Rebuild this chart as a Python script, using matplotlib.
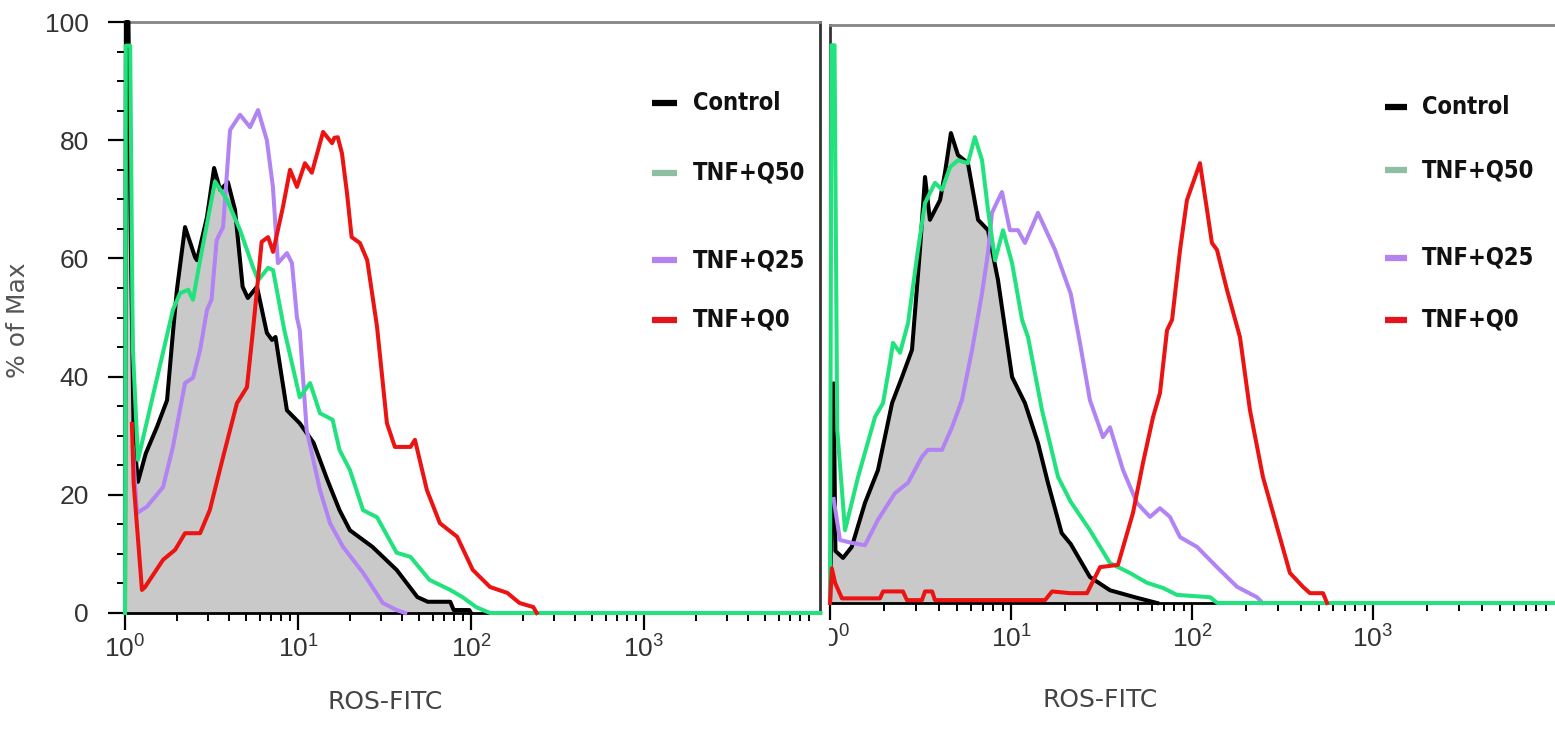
import numpy as np
import matplotlib
matplotlib.use("Agg")
import matplotlib.pyplot as plt
from matplotlib import font_manager
from matplotlib.font_manager import FontProperties
from matplotlib.transforms import Bbox

plt.rcParams['font.family'] = ['Liberation Sans', 'DejaVu Sans']
plt.rcParams['mathtext.default'] = 'regular'

# ---- data: x as log10(ROS-FITC), y as % of max ----
# left panel
ctrl_L_dec = [0.0, 0.005, 0.02, 0.035, 0.05, 0.075, 0.12, 0.185, 0.243, 0.277, 0.30, 0.347, 0.405, 0.416,
              0.474, 0.515, 0.55, 0.595, 0.636, 0.68, 0.71, 0.763, 0.82, 0.85, 0.87, 0.936, 1.01, 1.09,
              1.17, 1.24, 1.30, 1.43, 1.57, 1.69, 1.75, 1.88, 1.9, 1.99, 2.0]
ctrl_L_y = [0, 100, 100, 60, 30, 22.2, 27, 31.5, 36, 47.4, 54.7, 65.3, 60.2, 59.7,
            67, 75.3, 71.6, 72.9, 68.2, 55.2, 53.3, 55.2, 47.4, 46.2, 46.7, 34.3, 32.1, 28.8,
            22.5, 17.4, 14, 11.2, 7.3, 2.7, 1.9, 1.9, 0.5, 0.5, 0]

q50_L_dec = [0.0, 0.005, 0.03, 0.045, 0.075, 0.2, 0.277, 0.318, 0.365, 0.393, 0.434, 0.52, 0.59, 0.665,
             0.74, 0.77, 0.827, 0.856, 0.92, 1.01, 1.07, 1.127, 1.2, 1.24, 1.3, 1.376, 1.457, 1.57,
             1.65, 1.76, 1.88, 1.95, 2.03, 2.11, 4.02]
q50_L_y = [0, 96, 96, 45, 25.9, 41.6, 51.3, 54.1, 54.7, 53, 59.7, 73, 69.9, 64.8,
           58.5, 56.3, 58.4, 58, 48, 36.5, 38.9, 33.8, 32.7, 27.6, 24.2, 17.4, 16.2, 10.2,
           9.5, 5.6, 3.9, 2.7, 1, 0, 0]

q25_L_dec = [0.045, 0.069, 0.127, 0.22, 0.277, 0.347, 0.393, 0.434, 0.474, 0.50, 0.53, 0.567, 0.607,
             0.665, 0.723, 0.769, 0.82, 0.855, 0.884, 0.936, 0.965, 0.994, 1.01, 1.05, 1.127, 1.185,
             1.26, 1.376, 1.49, 1.57, 1.62]
q25_L_y = [28, 16.9, 18, 21.3, 28.1, 38.9, 39.8, 44.5, 51.3, 53, 63.1, 65.3, 81.7,
           84.3, 82.2, 85.1, 80, 72.1, 59.2, 60.9, 59.2, 50, 47.9, 31, 20.8, 15.2,
           11.2, 6.8, 1.7, 0.5, 0]

q0_L_dec = [0.04, 0.05, 0.098, 0.116, 0.22, 0.29, 0.347, 0.434, 0.49, 0.567, 0.647, 0.705, 0.74, 0.79,
            0.827, 0.856, 0.913, 0.954, 0.994, 1.04, 1.08, 1.145, 1.197, 1.21, 1.23, 1.254, 1.283, 1.31,
            1.358, 1.4, 1.457, 1.514, 1.56, 1.65, 1.676, 1.745, 1.82, 1.92, 2.01, 2.11, 2.21, 2.28,
            2.36, 2.38]
q0_L_y = [32, 22, 3.9, 4.4, 9, 10.7, 13.5, 13.5, 17.4, 26.4, 35.5, 38.2, 47.9, 62.8,
          63.6, 61.1, 68.7, 75, 72.1, 76.1, 74.5, 81.4, 79.5, 80.4, 80.5, 77.8, 71.1, 63.6,
          62.6, 59.7, 48.4, 32.1, 28.1, 28.1, 29.3, 20.8, 15.2, 12.9, 7.3, 4.4, 3.4, 1.7,
          1, 0]

# right panel
ctrl_R_dec = [0.0, 0.02, 0.03, 0.072, 0.12, 0.193, 0.265, 0.343, 0.398, 0.453, 0.497, 0.525, 0.552,
              0.608, 0.635, 0.668, 0.707, 0.762, 0.818, 0.873, 0.928, 1.006, 1.077, 1.149, 1.204,
              1.28, 1.33, 1.436, 1.547, 1.696, 1.807]
ctrl_R_y = [0, 38, 9, 7.8, 9.7, 17.3, 23, 34.6, 39.1, 43.8, 61.1, 73.7, 66.3,
            69.7, 74.4, 81.3, 77.5, 76.1, 66.3, 64.5, 55.9, 39.1, 34.6, 27.7, 20.8,
            12.1, 10.2, 4.5, 2.2, 0.9, 0]

q50_R_dec = [0.0, 0.008, 0.025, 0.04, 0.083, 0.155, 0.249, 0.293, 0.331, 0.348, 0.387, 0.431, 0.486,
             0.525, 0.58, 0.619, 0.663, 0.707, 0.762, 0.80, 0.84, 0.873, 0.912, 0.956, 1.006, 1.061,
             1.094, 1.171, 1.26, 1.33, 1.436, 1.547, 1.657, 1.751, 1.84, 1.917, 2.1, 2.14, 4.01]
q50_R_y = [0, 96.5, 96.5, 30, 12.6, 21.8, 32.2, 34.6, 41.5, 45, 43.3, 48.4, 61.1,
           69.2, 72.7, 71.5, 75.4, 76.6, 76.1, 80.6, 76.6, 68, 59.3, 64.5, 58.8, 49,
           46, 33.4, 21.8, 17.5, 12.6, 6.9, 5.2, 3.5, 2.6, 1.4, 1, 0, 0]

q25_R_dec = [0.02, 0.055, 0.12, 0.193, 0.265, 0.359, 0.431, 0.508, 0.541, 0.619, 0.674, 0.729, 0.785,
             0.84, 0.873, 0.895, 0.928, 0.95, 0.994, 1.039, 1.077, 1.116, 1.149, 1.243, 1.33, 1.381,
             1.436, 1.508, 1.547, 1.619, 1.696, 1.768, 1.823, 1.878, 1.934, 2.028, 2.138, 2.249,
             2.359, 2.39]
q25_R_y = [18, 10.9, 10.4, 10, 14.4, 19, 20.8, 25.3, 26.5, 26.5, 30.4, 35.1, 43.8,
           53.6, 60.6, 67.5, 69.7, 71.1, 64.5, 64.5, 62.3, 65.1, 67.5, 61.1, 53.5, 45,
           35.1, 28.7, 30.4, 23, 17.3, 14.9, 16.4, 14.9, 11.4, 9.7, 6.2, 2.8,
           1, 0]

q0_R_dec = [0.0, 0.01, 0.028, 0.066, 0.276, 0.293, 0.403, 0.425, 0.508, 0.525, 0.564, 0.58, 1.188,
            1.227, 1.326, 1.42, 1.492, 1.591, 1.674, 1.729, 1.785, 1.823, 1.862, 1.89, 1.934, 1.972,
            2.044, 2.083, 2.11, 2.138, 2.193, 2.265, 2.32, 2.392, 2.47, 2.541, 2.613, 2.652, 2.724,
            2.746]
q0_R_y = [0, 6, 3.5, 0.8, 0.8, 2, 2, 0.5, 0.5, 2, 2, 0.5, 0.5,
          2, 1.7, 1.7, 6.2, 6.6, 15.6, 24.2, 32.2, 36.3, 47.2, 49, 61.1, 69.7,
          76.1, 68, 62.3, 61.1, 54.2, 46, 33.4, 21.8, 13.1, 5.2, 2.8, 1.7, 1.7,
          0]

legend_labels = ['Control', 'TNF+Q50', 'TNF+Q25', 'TNF+Q0']
legend_colors = ['#000000', '#8fbfa3', '#b583f0', '#e4141c']
line_colors = {'Control': '#000000', 'TNF+Q50': '#22e27e', 'TNF+Q25': '#b283f2', 'TNF+Q0': '#ec1313'}
xtick_vals = [1, 10, 100, 1000]
xtick_labels = [r'$10^{0}$', r'$10^{1}$', r'$10^{2}$', r'$10^{3}$']
ytick_vals = [0, 20, 40, 60, 80, 100]

# condensed face for the legend if one is installed
narrow = [f for f in font_manager.fontManager.ttflist
          if f.stretch in ('condensed', 'semi-condensed', 'extra-condensed')
          or 'Narrow' in f.name or 'Condensed' in f.name]
narrow.sort(key=lambda f: 0 if f.weight in ('bold', 700) else 1)
if narrow:
    leg_fp = FontProperties(fname=narrow[0].fname, size=17)
else:
    leg_fp = FontProperties(family='Liberation Sans', weight='bold', size=16)

W, H = 1555, 729
fig = plt.figure(figsize=(W / 100, H / 100), dpi=100)
axL = fig.add_axes([125 / W, (H - 613) / H, (820 - 125) / W, (613 - 22) / H])
axR = fig.add_axes([830 / W, (H - 603) / H, (W - 830) / W, (603 - 25) / H])


def draw_panel(ax, ctrl, q50, q25, q0, xmax_dec):
    cx = 10 ** np.array(ctrl[0])
    ax.fill_between(cx, ctrl[1], 0, color='#c9c9c9', lw=0, zorder=1)
    for (d, y), name in [(ctrl, 'Control'), (q25, 'TNF+Q25'), (q50, 'TNF+Q50'), (q0, 'TNF+Q0')]:
        ax.plot(10 ** np.array(d), y, color=line_colors[name], lw=2.9, zorder=4, clip_on=False)
    ax.set_xscale('log')
    ax.set_xlim(1, 10 ** xmax_dec)
    ax.set_ylim(0, 100)
    ax.set_xticks(xtick_vals)
    ax.set_xticklabels(xtick_labels)
    minors = [m * 10 ** k for k in range(4) for m in range(2, 10)]
    ax.set_xticks(minors, minor=True)
    ax.tick_params(axis='x', which='major', length=12, width=1.6, pad=4, labelsize=19,
                   labelcolor='#333333')
    ax.tick_params(axis='x', which='minor', length=6, width=1.4)
    ax.spines['bottom'].set_linewidth(2)
    ax.spines['top'].set_color('#858585')
    ax.spines['top'].set_linewidth(2)
    ax.set_xlabel('ROS-FITC', fontsize=18, color='#444444', family='DejaVu Sans')


def draw_legend(ax, x0, x1, xt, ys):
    for lab, col, yy in zip(legend_labels, legend_colors, ys):
        ax.plot([x0, x1], [yy, yy], transform=ax.transAxes, color=col, lw=4.5,
                solid_capstyle='butt', clip_on=False, zorder=6)
        ax.text(xt, yy, lab, transform=ax.transAxes, fontproperties=leg_fp,
                va='center', ha='left', color='#111111')


# left panel
draw_panel(axL, (ctrl_L_dec, ctrl_L_y), (q50_L_dec, q50_L_y), (q25_L_dec, q25_L_y),
           (q0_L_dec, q0_L_y), (820 - 125) / 173)
axL.set_yticks(ytick_vals)
axL.set_yticks([v for v in range(5, 100, 5) if v % 20], minor=True)
axL.tick_params(axis='y', which='major', length=12, width=1.6, pad=14, labelsize=19,
                labelcolor='#333333')
axL.tick_params(axis='y', which='minor', length=6, width=1.4)
axL.spines['left'].set_linewidth(2)
axL.spines['right'].set_color('#333333')
axL.spines['right'].set_linewidth(2)
axL.set_ylabel('% of Max', fontsize=18, color='#555555', family='DejaVu Sans')
axL.yaxis.set_label_coords(-0.137, 0.496)
axL.xaxis.set_label_coords(0.374, -0.13)
draw_legend(axL, 0.758, 0.794, 0.817, [0.863, 0.745, 0.597, 0.496])

# right panel
draw_panel(axR, (ctrl_R_dec, ctrl_R_y), (q50_R_dec, q50_R_y), (q25_R_dec, q25_R_y),
           (q0_R_dec, q0_R_y), (W - 830) / 181)
axR.set_yticks([])
axR.spines['right'].set_visible(False)
axR.spines['left'].set_color('#333333')
axR.spines['left'].set_linewidth(2)
axR.xaxis.set_label_coords(0.372, -0.147)
draw_legend(axR, 0.766, 0.796, 0.817, [0.858, 0.749, 0.597, 0.49])

# the right picture is cut at its left edge, so its first tick label is clipped
clip = Bbox.from_extents(829, 0, W, H)
for lbl in axR.get_xticklabels():
    lbl.set_clip_on(True)
    lbl.set_clip_box(clip)

fig.savefig('out.png', dpi=100)
